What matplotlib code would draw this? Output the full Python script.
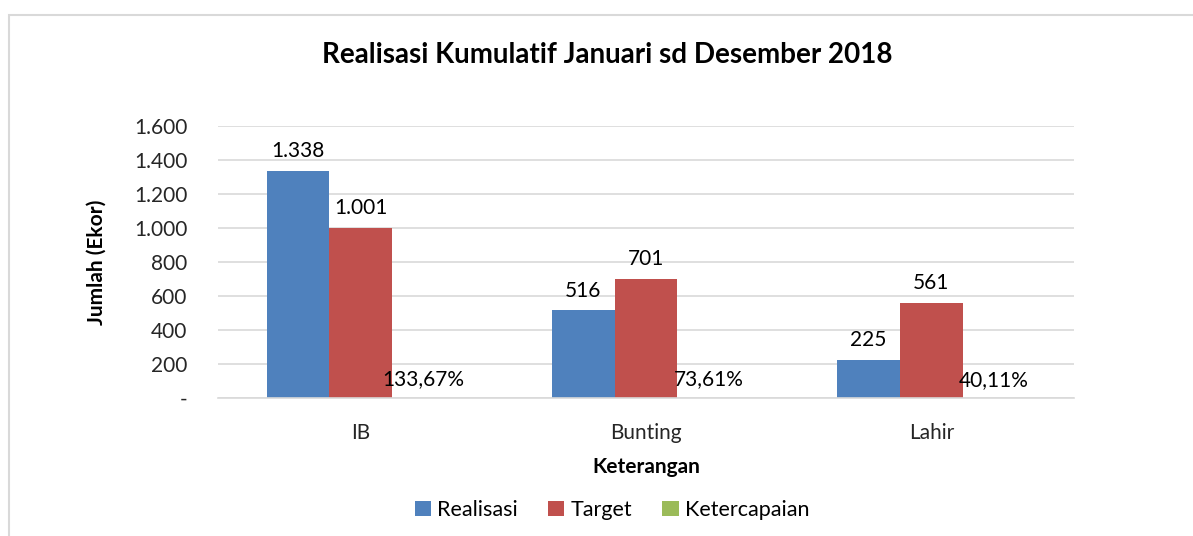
import numpy as np
import matplotlib.pyplot as plt
from matplotlib.patches import Rectangle

kategori = ["IB", "Bunting", "Lahir"]
realisasi = [1338, 516, 225]
target = [1001, 701, 561]
ketercapaian = [1.3367, 0.7361, 0.4011]
label_realisasi = ["1.338", "516", "225"]
label_target = ["1.001", "701", "561"]
label_capai = ["133,67%", "73,61%", "40,11%"]
yticks = [0, 200, 400, 600, 800, 1000, 1200, 1400, 1600]
ytick_labels = ["-", "200", "400", "600", "800", "1.000", "1.200", "1.400", "1.600"]

plt.rcParams['font.family'] = ['Lato', 'DejaVu Sans']

biru = '#4F81BD'
merah = '#C0504D'
hijau = '#9BBB59'

fig = plt.figure(figsize=(11.93, 5.36), dpi=100)
ax = fig.add_axes([218 / 1193, 1 - 398 / 536, (1074 - 218) / 1193, (398 - 126) / 536])

# bingkai chart
fig.patches.append(Rectangle((9 / 1193, -0.05), 1.2, 1 - 15 / 536 + 0.05,
                             transform=fig.transFigure, fill=False,
                             edgecolor='#d9d9d9', linewidth=1.5))

x = np.arange(len(kategori))
w = 0.22
b1 = ax.bar(x - w, realisasi, w, color=biru, label="Realisasi")
b2 = ax.bar(x, target, w, color=merah, label="Target")
b3 = ax.bar(x + w, ketercapaian, w, color=hijau, label="Ketercapaian")

ax.bar_label(b1, labels=label_realisasi, padding=7, fontsize=15)
ax.bar_label(b2, labels=label_target, padding=7, fontsize=15)
ax.bar_label(b3, labels=label_capai, padding=6, fontsize=15)

ax.set_xlim(-0.5, 2.5)
ax.set_ylim(0, 1600)
ax.set_yticks(yticks)
ax.set_yticklabels(ytick_labels)
ax.set_xticks(x)
ax.set_xticklabels(kategori)
ax.tick_params(axis='both', length=0, labelsize=15, colors='#262626')
ax.tick_params(axis='y', pad=22)
ax.tick_params(axis='x', pad=18)

ax.grid(axis='y', color='#d9d9d9', linewidth=1.2)
ax.set_axisbelow(True)
for s in ['top', 'right', 'left']:
    ax.spines[s].set_visible(False)
ax.spines['bottom'].set_color('#d9d9d9')
ax.spines['bottom'].set_linewidth(1.2)

ax.set_ylabel("Jumlah (Ekor)", fontsize=15, fontweight='bold', labelpad=20)
ax.set_xlabel("Keterangan", fontsize=15, fontweight='bold', labelpad=10)
fig.text(607 / 1193, 1 - 55 / 536, "Realisasi Kumulatif Januari sd Desember 2018",
         ha='center', va='center', fontsize=20, fontweight='bold')

fig.legend(handles=[b1, b2, b3], loc='center', bbox_to_anchor=(612 / 1193, 1 - 510 / 536),
           ncol=3, frameon=False, fontsize=15.5, handlelength=0.75, handleheight=0.75,
           handletextpad=0.3, columnspacing=1.4)

fig.savefig("out.png", dpi=100)
